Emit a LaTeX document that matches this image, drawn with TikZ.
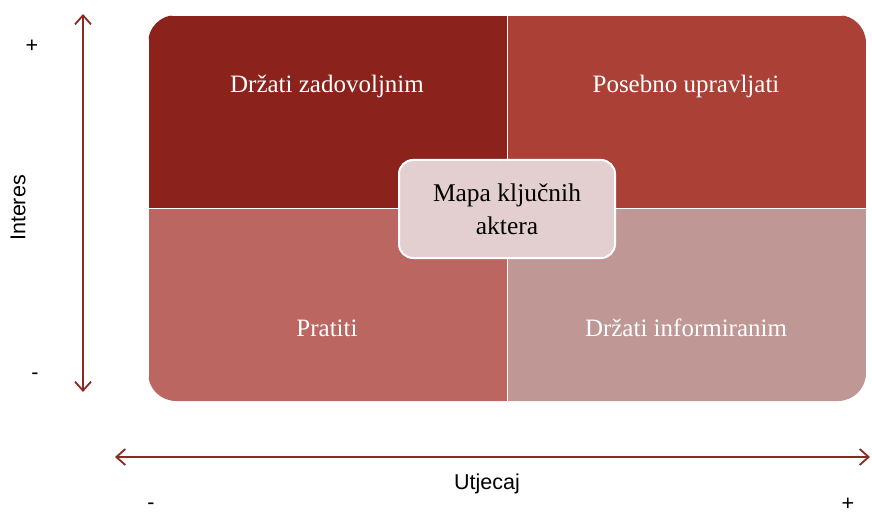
\documentclass[tikz,border=0pt]{standalone}
\usepackage{fontspec}
\setmainfont{Liberation Serif}
\setsansfont{Liberation Sans}
\usepackage{xcolor}
\usetikzlibrary{arrows.meta, positioning}
\definecolor{darkred}{HTML}{8B231C}
\definecolor{midred}{HTML}{AA4036}
\definecolor{lightred}{HTML}{BB6660}
\definecolor{palered}{HTML}{BF9795}
\definecolor{boxpink}{HTML}{E3CFD0}
\definecolor{axisred}{HTML}{8B2A22}
\tikzset{
  quad/.style={rectangle, draw=white, line width=1pt, minimum width=359pt, minimum height=193pt},
  quadtext/.style={text=white, font=\fontsize{25}{30}\selectfont},
  centerbox/.style={rectangle, draw=white, line width=2pt, rounded corners=14pt, fill=boxpink, minimum width=216pt, minimum height=98pt, align=center, font=\fontsize{25.5}{33}\selectfont},
  axis/.style={{Straight Barb[length=9pt, width=16pt]}-{Straight Barb[length=9pt, width=16pt]}, axisred, line width=1.8pt},
  axislabel/.style={font=\sffamily\fontsize{21.5}{24}\selectfont},
}
\begin{document}
\begin{tikzpicture}[x=1pt, y=-1pt]
    \useasboundingbox (0,0) rectangle (872,513);
    \begin{scope}
      \clip[rounded corners=28pt] (148,15) rectangle (866,401);
      \node[quad, fill=darkred] (keep) at (327.5,112) {};
      \node[quad, fill=midred] (manage) at (686.5,112) {};
      \node[quad, fill=lightred] (monitor) at (327.5,305) {};
      \node[quad, fill=palered] (inform) at (686.5,305) {};
    \end{scope}
    \node[quadtext] (keeptext) at (327,86) {Držati zadovoljnim};
    \node[quadtext] (managetext) at (686,86) {Posebno upravljati};
    \node[quadtext] (monitortext) at (327,328) {Pratiti};
    \node[quadtext] (informtext) at (686,328) {Držati informiranim};
    \node[centerbox] (map) at (507,209) {Mapa ključnih\\aktera};
    % axes
    \coordinate (top) at (83,14);
    \coordinate (bottom) at (83,392);
    \coordinate (left) at (115,457);
    \coordinate (right) at (870,457);
    \draw[axis] (bottom) -- (top);
    \draw[axis] (left) -- (right);
    \node[axislabel, rotate=90] (interest) at (18,208) {Interes};
    \node[axislabel] (impact) at (487,484) {Utjecaj};
    \node[axislabel] (iplus) at (32,46) {+};
    \node[axislabel] (iminus) at (35,376) {-};
    \node[axislabel] (uminus) at (151,506) {-};
    \node[axislabel] (uplus) at (848,504) {+};
  \end{tikzpicture}
\end{document}
